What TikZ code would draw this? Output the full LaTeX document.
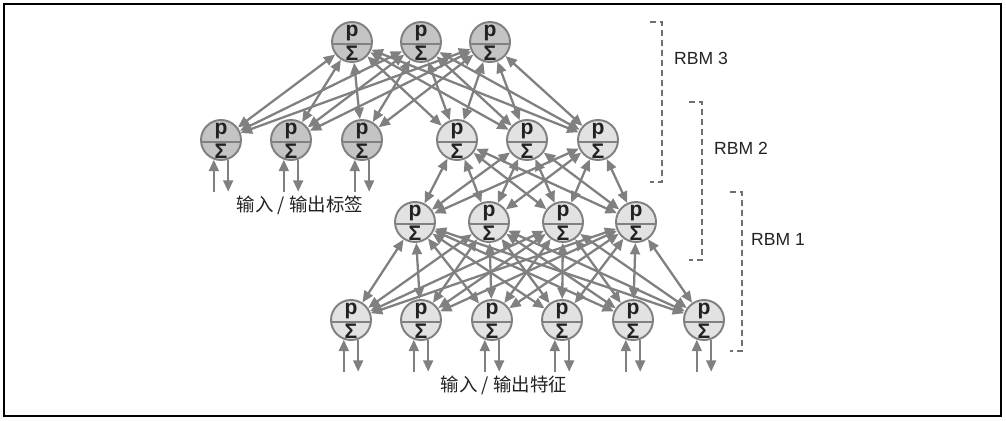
\documentclass[tikz,border=0pt]{standalone}
\usepackage{fontspec}
\setmainfont{Liberation Sans}
\newfontfamily\cjk{Noto Sans CJK SC}
\usepackage{tikz}
\usetikzlibrary{arrows.meta}

\definecolor{linegray}{HTML}{808080}
\definecolor{darkfill}{HTML}{C4C4C4}
\definecolor{lightfill}{HTML}{E2E2E2}
\definecolor{textdark}{HTML}{222222}
\definecolor{dashgray}{HTML}{707070}

\tikzset{
  neuron/.style={circle, draw=linegray, line width=1.1pt, fill=#1,
    minimum size=0.8cm, inner sep=0pt,
    path picture={
      \draw[linegray, line width=1.1pt] ([yshift=-0.04cm]path picture bounding box.west)
        -- ([yshift=-0.04cm]path picture bounding box.east);
      \node[inner sep=0pt, text=textdark, font=\fontsize{12}{14}\selectfont\bfseries]
        at ([yshift=0.18cm]path picture bounding box.center) {p};
      \node[inner sep=0pt, text=textdark, font=\fontsize{12}{14}\selectfont\bfseries]
        at ([yshift=-0.23cm]path picture bounding box.center) {Σ};
    }},
  link/.style={linegray, line width=1.3pt, <->},
  io/.style={linegray, line width=1.3pt},
  rbmbracket/.style={dashgray, line width=0.8pt, dash pattern=on 3.5pt off 2.2pt},
  rbmlabel/.style={font=\fontsize{10}{12}\selectfont, text=textdark},
  caption/.style={font=\cjk\fontsize{10.5}{12}\selectfont, text=textdark}
}

\begin{document}
\begin{tikzpicture}[x=0.02cm, y=-0.02cm, >={Triangle[length=6.5pt,width=5.6pt]}]
    \useasboundingbox (0,0) rectangle (1006,420);
    \draw[black, line width=0.8pt] (4,4) rectangle (1001,416);

    % Capas
    \foreach \i/\x in {1/352,2/421,3/490}
        \node[neuron=darkfill] (t\i) at (\x,42) {};
    \foreach \i/\x in {1/221,2/291,3/362}
        \node[neuron=darkfill] (l\i) at (\x,140) {};
    \foreach \i/\x in {1/457,2/527,3/598}
        \node[neuron=lightfill] (s\i) at (\x,140) {};
    \foreach \i/\x in {1/415,2/489,3/563,4/636}
        \node[neuron=lightfill] (m\i) at (\x,222) {};
    \foreach \i/\x in {1/351,2/421,3/492,4/562,5/633,6/704}
        \node[neuron=lightfill] (b\i) at (\x,320) {};

    % Conexiones
    \foreach \i in {1,2,3}
        \foreach \j in {l1,l2,l3,s1,s2,s3}
            \draw[link] (t\i) -- (\j);
    \foreach \i in {1,2,3}
        \foreach \j in {1,2,3,4}
            \draw[link] (s\i) -- (m\j);
    \foreach \i in {1,2,3,4}
        \foreach \j in {1,...,6}
            \draw[link] (m\i) -- (b\j);

    % Entradas y salidas
    \foreach \n in {l1,l2,l3,b1,b2,b3,b4,b5,b6} {
        \draw[io, <-] (\n.-110) -- ++(0,32);
        \draw[io, ->] (\n.-70) -- ++(0,32);
    }

    \node[caption] (labels) at (300,205) {输入 / 输出标签};
    \node[caption] (features) at (504,385) {输入 / 输出特征};

    % RBM
    \draw[rbmbracket] (650,22) -- (662,22) -- (662,182) -- (650,182);
    \draw[rbmbracket] (689,102) -- (702,102) -- (702,260) -- (689,260);
    \draw[rbmbracket] (730,192) -- (742,192) -- (742,351) -- (730,351);
    \node[rbmlabel] (rbm3) at (701,58) {RBM 3};
    \node[rbmlabel] (rbm2) at (741,148) {RBM 2};
    \node[rbmlabel] (rbm1) at (778,239) {RBM 1};
\end{tikzpicture}
\end{document}
